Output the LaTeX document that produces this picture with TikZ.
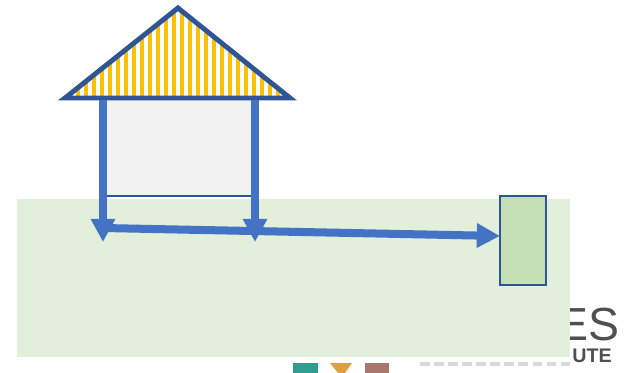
\documentclass[tikz,border=0pt]{standalone}
\usepackage{fontspec}
\setmainfont{Liberation Sans}
\usetikzlibrary{arrows.meta}
\definecolor{sol}{HTML}{E2EFDA}
\definecolor{cuve}{HTML}{C5E0B4}
\definecolor{mur}{HTML}{F2F2F2}
\definecolor{trait}{HTML}{2F5597}
\definecolor{tuyau}{HTML}{4472C4}
\definecolor{tuile}{HTML}{FFC000}
\definecolor{logo}{HTML}{505050}
\definecolor{logoA}{HTML}{2E9C8F}
\definecolor{logoB}{HTML}{E0A040}
\definecolor{logoC}{HTML}{A8766A}

\begin{document}
\begin{tikzpicture}[x=0.025cm, y=-0.025cm]
\tikzset{bloc/.style={inner sep=0pt, outer sep=0pt, anchor=north west},
  tuyauterie/.style={draw=tuyau, line width=5.7pt, -{Triangle[length=16.5pt, width=16.5pt]}}}
\useasboundingbox (0, 0) rectangle (630, 373);
\clip (0, 0) rectangle (630, 373);
\node[anchor=base east, inner sep=0pt, text=logo, font=\fontsize{33}{33}\selectfont] (LogoES) at (620, 340) {ES};
\node[anchor=base east, inner sep=0pt, text=logo, font=\fontsize{14}{14}\selectfont\bfseries] (LogoUTE) at (612, 362) {UTE};
\fill[logoA] (293, 363) rectangle (318, 373);
\fill[logoB] (330, 363) -- (352, 363) -- (345, 373) -- (338, 373) -- cycle;
\fill[logoC] (365, 363) rectangle (389, 373);
\draw[black!15, line width=2.5pt, dash pattern=on 7pt off 3pt] (420, 364) -- (573, 364);
\node[bloc, fill=sol, minimum width=553*0.025cm, minimum height=158*0.025cm] (Sol) at (17, 199) {};
\node[bloc, fill=mur, minimum width=152*0.025cm, minimum height=98*0.025cm] (Mur) at (103, 98) {};
\draw[trait, line width=1pt] (Mur.south west) -- (Mur.south east);
\node[bloc, draw=trait, line width=1.2pt, fill=cuve, minimum width=46*0.025cm, minimum height=89*0.025cm] (Cuve) at (500, 196) {};
\coordinate (Sommet) at (178, 8);
\coordinate (Gauche) at (65, 98);
\coordinate (Droite) at (290, 98);
\begin{scope}
\clip (Sommet) -- (Droite) -- (Gauche) -- cycle;
\foreach \x in {70, 78, ..., 286}
  \fill[tuile] (\x-2.3, 0) rectangle (\x+2.3, 100);
\end{scope}
\draw[trait, line width=3.5pt, line join=miter] (Sommet) -- (Droite) -- (Gauche) -- cycle;
\coordinate (Haut1) at (103, 100);
\coordinate (Bas1) at (103, 242);
\coordinate (Haut2) at (255, 100);
\coordinate (Bas2) at (255, 242);
\coordinate (Depart) at (103, 228);
\draw[tuyauterie] (Haut1) -- (Bas1);
\draw[tuyauterie] (Haut2) -- (Bas2);
\draw[tuyauterie] (Depart) -- (Cuve.west |- 0, 236);
\end{tikzpicture}
\end{document}
